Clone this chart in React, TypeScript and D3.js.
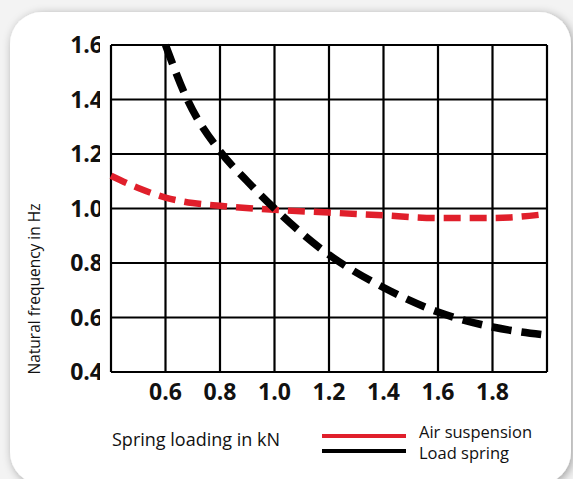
import { useEffect, useRef } from 'react';
import * as d3 from 'd3';

// spring loading (kN) vs natural frequency (Hz)
const airLoad = [0.4, 0.5, 0.6, 0.7, 0.8, 1.0, 1.2, 1.4, 1.6, 1.8, 2.0];
const airFreq = [1.12, 1.075, 1.04, 1.02, 1.01, 0.995, 0.985, 0.975, 0.965, 0.965, 0.98];

const springLoad = [0.6, 0.68, 0.8, 0.9, 1.0, 1.2, 1.4, 1.6, 1.8, 2.0];
const springFreq = [1.6, 1.4, 1.21, 1.1, 1.0, 0.83, 0.71, 0.62, 0.565, 0.535];

const xTicks = [0.6, 0.8, 1.0, 1.2, 1.4, 1.6, 1.8];
const xGrid = [0.4, 0.6, 0.8, 1.0, 1.2, 1.4, 1.6, 1.8, 2.0];
const yTicks = [0.4, 0.6, 0.8, 1.0, 1.2, 1.4, 1.6];

const seriesNames = ['Air suspension', 'Load spring'];
const seriesColors = ['#e01f2b', '#000000'];

const W = 573;
const H = 479;
const FONT = '"Open Sans", "DejaVu Sans", sans-serif';

export default function App() {
  const svgRef = useRef<SVGSVGElement>(null);

  useEffect(() => {
    if (!svgRef.current) return;
    const svg = d3.select(svgRef.current);
    svg.selectAll('*').remove();

    const x = d3.scaleLinear().domain([0.4, 2.0]).range([111, 547]);
    const y = d3.scaleLinear().domain([0.4, 1.6]).range([372, 45]);

    const defs = svg.append('defs');
    const shadow = defs.append('filter').attr('id', 'cardShadow')
      .attr('x', '-10%').attr('y', '-10%').attr('width', '120%').attr('height', '120%');
    shadow.append('feDropShadow')
      .attr('dx', 2).attr('dy', 2).attr('stdDeviation', 5)
      .attr('flood-color', '#000').attr('flood-opacity', 0.35);

    defs.append('clipPath').attr('id', 'ylabClip')
      .append('rect').attr('x', 0).attr('y', 0).attr('width', 100).attr('height', H);

    // page + card
    svg.append('rect').attr('width', W).attr('height', H).attr('fill', '#f3f3f3');
    svg.append('rect')
      .attr('x', 10).attr('y', 12).attr('width', 561).attr('height', 472)
      .attr('rx', 32)
      .attr('fill', '#fff')
      .attr('filter', 'url(#cardShadow)');

    // grid
    const grid = svg.append('g').attr('stroke', '#000').attr('stroke-width', 2.2);
    grid.selectAll('line.v').data(xGrid).enter().append('line')
      .attr('x1', d => x(d)).attr('x2', d => x(d))
      .attr('y1', y(0.4)).attr('y2', y(1.6));
    grid.selectAll('line.h').data(yTicks).enter().append('line')
      .attr('x1', x(0.4)).attr('x2', x(2.0))
      .attr('y1', d => y(d)).attr('y2', d => y(d));

    // tick labels
    svg.append('g').attr('clip-path', 'url(#ylabClip)')
      .selectAll('text').data(yTicks).enter().append('text')
      .attr('x', 103).attr('y', d => y(d)).attr('dy', '0.36em')
      .attr('text-anchor', 'end')
      .style('font-family', FONT).style('font-weight', 'bold').style('font-size', '23px')
      .attr('fill', '#111')
      .text(d => d.toFixed(1));

    svg.append('g').selectAll('text').data(xTicks).enter().append('text')
      .attr('x', d => x(d)).attr('y', 392).attr('dy', '0.36em')
      .attr('text-anchor', 'middle')
      .style('font-family', FONT).style('font-weight', 'bold').style('font-size', '23px')
      .attr('fill', '#111')
      .text(d => d.toFixed(1));

    // axis titles
    svg.append('text')
      .attr('transform', 'translate(40,289) rotate(-90)')
      .attr('text-anchor', 'middle')
      .style('font-family', FONT).style('font-size', '15.5px')
      .attr('fill', '#111')
      .text('Natural frequency in Hz');

    svg.append('text')
      .attr('x', 112).attr('y', 446)
      .style('font-family', FONT).style('font-size', '18px')
      .attr('fill', '#111')
      .text('Spring loading in kN');

    // curves
    const line = d3.line<[number, number]>()
      .x(d => x(d[0])).y(d => y(d[1]))
      .curve(d3.curveMonotoneX);

    svg.append('path')
      .datum(airLoad.map((v, i) => [v, airFreq[i]] as [number, number]))
      .attr('d', line)
      .attr('fill', 'none')
      .attr('stroke', seriesColors[0])
      .attr('stroke-width', 6.5)
      .attr('stroke-dasharray', '17 9');

    svg.append('path')
      .datum(springLoad.map((v, i) => [v, springFreq[i]] as [number, number]))
      .attr('d', line)
      .attr('fill', 'none')
      .attr('stroke', seriesColors[1])
      .attr('stroke-width', 7.5)
      .attr('stroke-dasharray', '20 10');

    // legend
    const legend = svg.append('g');
    seriesNames.forEach((name, i) => {
      const ly = 436 + i * 15;
      legend.append('line')
        .attr('x1', 322).attr('x2', 406).attr('y1', ly).attr('y2', ly)
        .attr('stroke', seriesColors[i]).attr('stroke-width', 4);
      legend.append('text')
        .attr('x', 419).attr('y', 432 + i * 21).attr('dy', '0.35em')
        .style('font-family', FONT).style('font-size', '16.5px')
        .attr('fill', '#111')
        .text(name);
    });
  }, []);

  return (
    <svg
      ref={svgRef}
      width={W}
      height={H}
      style={{ position: 'absolute', left: 0, top: 0, display: 'block' }}
    />
  );
}
